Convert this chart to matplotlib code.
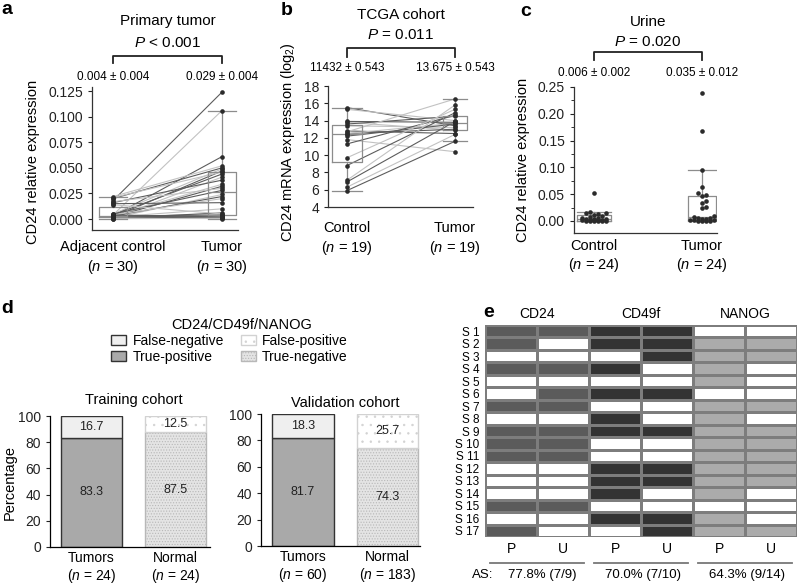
import numpy as np
import matplotlib
matplotlib.use("Agg")
import matplotlib.pyplot as plt
from matplotlib.transforms import blended_transform_factory
from matplotlib.colors import ListedColormap
from matplotlib.patches import Patch
from matplotlib.ticker import FormatStrFormatter, MultipleLocator

plt.rcParams['font.family'] = ['Liberation Sans', 'DejaVu Sans']
plt.rcParams['mathtext.fontset'] = 'custom'
plt.rcParams['mathtext.rm'] = 'Liberation Sans'
plt.rcParams['mathtext.it'] = 'Liberation Sans:italic'
plt.rcParams['hatch.linewidth'] = 0.5
plt.rcParams['axes.linewidth'] = 0.9

# ---- panel a: primary tumor (paired) ----
ctrl_a = [0.018, 0.004, 0.003, 0.022, 0.020, 0.005, 0.002, 0.021, 0.004, 0.001,
          0.016, 0.003, 0.002, 0.017, 0.005, 0.001, 0.003, 0.004, 0.015, 0.002,
          0.001, 0.014, 0.003, 0.0005, 0.002, 0.001, 0.004, 0.0003, 0.002, 0.0006]
tumor_a = [0.124, 0.106, 0.061, 0.052, 0.050, 0.049, 0.047, 0.046, 0.044, 0.041,
           0.038, 0.034, 0.032, 0.030, 0.028, 0.024, 0.022, 0.020, 0.016, 0.010,
           0.006, 0.005, 0.004, 0.003, 0.003, 0.002, 0.002, 0.001, 0.001, 0.0005]
labels_a = ["Adjacent control\n($\\it{n}$ = 30)", "Tumor\n($\\it{n}$ = 30)"]
stats_a = ["0.004 ± 0.004", "0.029 ± 0.004"]

# ---- panel b: TCGA cohort (paired) ----
ctrl_b = [15.5, 15.3, 13.9, 13.8, 13.6, 13.4, 12.8, 12.7, 12.5, 12.5,
          12.2, 11.8, 11.3, 9.7, 8.8, 7.1, 6.9, 6.3, 5.9]
tumor_b = [13.4, 14.0, 13.8, 12.9, 14.5, 13.2, 12.5, 16.5, 13.0, 13.7,
           13.6, 10.4, 14.6, 15.3, 14.9, 15.8, 13.9, 12.4, 11.6]
labels_b = ["Control\n($\\it{n}$ = 19)", "Tumor\n($\\it{n}$ = 19)"]
stats_b = ["11432 ± 0.543", "13.675 ± 0.543"]

# ---- panel c: urine ----
ctrl_c = [0.053, 0.016, 0.015, 0.014, 0.013, 0.012, 0.010, 0.008, 0.006, 0.005,
          0.004, 0.003, 0.003, 0.002, 0.002, 0.001, 0.001, 0.001, 0.0005, 0.0005,
          0.0, 0.0, 0.0, 0.0]
tumor_c = [0.238, 0.167, 0.096, 0.063, 0.052, 0.048, 0.046, 0.038, 0.034, 0.026,
           0.024, 0.009, 0.007, 0.006, 0.005, 0.004, 0.003, 0.002, 0.001, 0.001,
           0.0005, 0.0, 0.0, 0.0]
labels_c = ["Control\n($\\it{n}$ = 24)", "Tumor\n($\\it{n}$ = 24)"]
stats_c = ["0.006 ± 0.002", "0.035 ± 0.012"]

# ---- panel d: stacked bars ----
groups_d = ["Tumors", "Normal"]
train_n = [24, 24]
train_correct = [83.3, 87.5]   # true-positive / true-negative
train_wrong = [16.7, 12.5]     # false-negative / false-positive
valid_n = [60, 183]
valid_correct = [81.7, 74.3]
valid_wrong = [18.3, 25.7]

# ---- panel e: per-sample marker status ----
samples = ["S %d" % i for i in range(1, 18)]
markers = ["CD24", "CD49f", "NANOG"]
cd24_p = [1, 1, 0, 1, 0, 0, 1, 0, 1, 1, 1, 0, 0, 0, 1, 0, 1]
cd24_u = [1, 0, 0, 1, 0, 1, 1, 0, 1, 1, 1, 0, 0, 0, 1, 0, 0]
cd49f_p = [1, 1, 0, 1, 0, 1, 0, 1, 1, 0, 0, 1, 1, 1, 0, 1, 0]
cd49f_u = [1, 1, 1, 0, 0, 1, 0, 0, 1, 0, 0, 1, 1, 0, 0, 1, 1]
nanog_p = [0, 1, 1, 1, 1, 0, 1, 1, 1, 1, 1, 1, 1, 1, 0, 1, 1]
nanog_u = [0, 1, 1, 0, 0, 0, 1, 0, 1, 1, 1, 1, 1, 0, 0, 0, 1]
as_text = ["77.8% (7/9)", "70.0% (7/10)", "64.3% (9/14)"]

W, H = 798, 585
fig = plt.figure(figsize=(W / 100, H / 100), dpi=100)


def add_ax(l, t, r, b):
    return fig.add_axes([l / W, 1 - b / H, (r - l) / W, (b - t) / H])


def fy(y):
    return 1 - y / H


def swarm(vals, ypx, xpx, d=4.0, maxoff=13.0):
    # simple beeswarm, capped width: overlap is allowed once the row is full
    vals = np.asarray(vals, float)
    offs = np.zeros(len(vals))
    placed = []
    cands = [0.0]
    k = 1
    while k * d <= maxoff:
        cands += [k * d, -k * d]
        k += 1
    for i in np.argsort(vals):
        y = vals[i] * ypx
        best, bestd = 0.0, -1
        for c in cands:
            md = min([np.hypot(c - px, y - py) for px, py in placed] or [99])
            if md >= d:
                best = c
                break
            if md > bestd:
                best, bestd = c, md
        placed.append((best, y))
        offs[i] = best / xpx
    return offs


def paired_panel(ax, ctrl, tum, widths, xlim, ylim, lines=True, jitter=None):
    if lines:
        for i, (c, t) in enumerate(zip(ctrl, tum)):
            ax.plot([0, 1], [c, t], color=['#5c5c5c', '#c2c2c2'][i % 2], lw=0.8, zorder=1)
    st = dict(color='#8c8c8c', lw=0.9)
    ax.boxplot([ctrl, tum], positions=[0, 1], widths=widths, capwidths=widths,
               showfliers=False, boxprops=st, whiskerprops=st, capprops=st,
               medianprops=st, zorder=2)
    for k, v in enumerate([ctrl, tum]):
        xo = np.zeros(len(v)) if jitter is None else jitter[k]
        ax.scatter(k + xo, v, s=11, color='#2b2b2b', zorder=3, linewidths=0)
    ax.set_xlim(*xlim)
    ax.set_ylim(*ylim)
    for s in ['top', 'right']:
        ax.spines[s].set_visible(False)
    for s in ['left', 'bottom']:
        ax.spines[s].set_color('#333333')
    ax.tick_params(axis='y', direction='out', length=3, width=0.8, labelsize=10, colors='#222222')
    ax.set_xticks([0, 1])


def annotate(ax, title, title_y, ptext, p_y, top_y, leg_y, stats, stats_y):
    tr = blended_transform_factory(ax.transData, fig.transFigure)
    ax.plot([0, 0, 1, 1], [fy(leg_y), fy(top_y), fy(top_y), fy(leg_y)], transform=tr,
            color='#222222', lw=1.3, clip_on=False)
    ax.text(0.5, fy(title_y), title, transform=tr, ha='center', va='center', fontsize=11)
    ax.text(0.5, fy(p_y), ptext, transform=tr, ha='center', va='center', fontsize=11)
    for k, s in enumerate(stats):
        ax.text(k, fy(stats_y), s, transform=tr, ha='center', va='center', fontsize=8.5)


# panel a
ax = add_ax(92, 87, 238, 230)
paired_panel(ax, ctrl_a, tumor_a, [0.25, 0.26], (-0.193, 1.147), (-0.0107, 0.129))
ax.set_yticks([0, 0.025, 0.05, 0.075, 0.1, 0.125])
ax.yaxis.set_major_formatter(FormatStrFormatter('%.3f'))
ax.set_xticklabels(labels_a, fontsize=10.5, linespacing=1.3)
ax.tick_params(axis='x', length=0, pad=7)
annotate(ax, "Primary tumor", 21, "$\\it{P}$ < 0.001", 43, 56, 63, stats_a, 77)
fig.text(33 / W, fy(162), "CD24 relative expression", rotation=90, ha='center', va='center', fontsize=10.5)

# panel b
ax = add_ax(328, 86, 473, 207)
paired_panel(ax, ctrl_b, tumor_b, [0.27, 0.22], (-0.176, 1.167), (4, 18))
ax.set_yticks(range(4, 19, 2))
ax.set_xticklabels(labels_b, fontsize=10.5, linespacing=1.3)
ax.tick_params(axis='x', length=0, pad=10)
annotate(ax, "TCGA cohort", 15, "$\\it{P}$ = 0.011", 35, 48, 57, stats_b, 68)
fig.text(288 / W, fy(142), "CD24 mRNA expression (log$_2$)", rotation=90, ha='center', va='center', fontsize=10.5)

# panel c
ax = add_ax(574, 87, 717, 233)
jit = [swarm(ctrl_c, 536, 108), swarm(tumor_c, 536, 108)]
paired_panel(ax, ctrl_c, tumor_c, [0.32, 0.26], (-0.185, 1.139), (-0.0224, 0.25),
             lines=False, jitter=jit)
ax.set_yticks([0, 0.05, 0.1, 0.15, 0.2, 0.25])
ax.yaxis.set_minor_locator(MultipleLocator(0.025))
ax.tick_params(axis='y', which='minor', length=2, width=0.7, colors='#333333')
ax.yaxis.set_major_formatter(FormatStrFormatter('%.2f'))
ax.set_xticklabels(labels_c, fontsize=10.5, linespacing=1.3)
ax.tick_params(axis='x', length=0, pad=4)
annotate(ax, "Urine", 22, "$\\it{P}$ = 0.020", 42, 52, 60, stats_c, 73)
fig.text(523 / W, fy(160), "CD24 relative expression", rotation=90, ha='center', va='center', fontsize=10.5)

# panel d
styles = {
    "TP": dict(facecolor='#a9a9a9', edgecolor='#333333', hatch=None, label="True-positive"),
    "FN": dict(facecolor='#efefef', edgecolor='#333333', hatch=None, label="False-negative"),
    "TN": dict(facecolor='#e4e4e4', edgecolor='#b8b8b8', hatch='......', label="True-negative"),
    "FP": dict(facecolor='white', edgecolor='#d2d2d2', hatch='..', label="False-positive"),
}


def stacked(ax, correct, wrong, ns, title, title_y):
    keys = [("TP", "FN"), ("TN", "FP")]
    for k in range(2):
        lo, hi = keys[k]
        for key, bottom, h in [(lo, 0, correct[k]), (hi, correct[k], wrong[k])]:
            s = styles[key]
            ax.bar(k, h, bottom=bottom, width=0.73, facecolor=s['facecolor'],
                   edgecolor=s['edgecolor'], hatch=s['hatch'], linewidth=1.0)
            ax.text(k, bottom + h / 2, "%.1f" % h, ha='center', va='center', fontsize=9, color='#222222')
    ax.set_ylim(0, 100)
    ax.set_yticks(range(0, 101, 20))
    ax.set_xticks([0, 1])
    ax.set_xticklabels(["%s\n($\\it{n}$ = %d)" % (g, n) for g, n in zip(groups_d, ns)],
                       fontsize=10, linespacing=1.15)
    ax.tick_params(axis='x', length=0, pad=3)
    ax.tick_params(axis='y', direction='out', length=3, width=0.8, labelsize=10, colors='#222222')
    for s in ['top', 'right']:
        ax.spines[s].set_visible(False)
    tr = blended_transform_factory(ax.transData, fig.transFigure)
    ax.text(0.5, fy(title_y), title, transform=tr, ha='center', va='center', fontsize=10.5)


ax = add_ax(50, 416, 210, 547)
stacked(ax, train_correct, train_wrong, train_n, "Training cohort", 400)
ax.set_xlim(-0.494, 1.41)
fig.text(10 / W, fy(482), "Percentage", rotation=90, ha='center', va='center', fontsize=10.5)

ax = add_ax(261, 414, 420, 546)
stacked(ax, valid_correct, valid_wrong, valid_n, "Validation cohort", 403)
ax.set_xlim(-0.497, 1.385)

handles = [Patch(facecolor=styles[k]['facecolor'], edgecolor=styles[k]['edgecolor'],
                 hatch=styles[k]['hatch'], label=styles[k]['label']) for k in ["FN", "TP", "FP", "TN"]]
fig.text(242 / W, fy(325), "CD24/CD49f/NANOG", ha='center', va='center', fontsize=10.5)
fig.legend(handles=handles, ncol=2, loc='upper left', bbox_to_anchor=(111 / W, fy(334)),
           frameon=False, fontsize=10, handlelength=1.1, handleheight=0.7,
           handletextpad=0.45, columnspacing=1.2, labelspacing=0.15, borderpad=0,
           borderaxespad=0)

# panel e
cols = [cd24_p, cd24_u, cd49f_p, cd49f_u, nanog_p, nanog_u]
M = np.array([np.array(c) * (j // 2 + 1) for j, c in enumerate(cols)]).T
ax = add_ax(485, 325, 797, 537)
cmap = ListedColormap(['white', '#5b5b5b', '#333333', '#ababab'])
ax.pcolormesh(M, cmap=cmap, vmin=-0.5, vmax=3.5, edgecolors='#7d7d7d', linewidth=0.8)
ax.set_xlim(0, 6)
ax.set_ylim(len(samples), 0)
for s in ax.spines.values():
    s.set_visible(False)
ax.set_xticks([])
ax.set_yticks(np.arange(len(samples)) + 0.5)
ax.set_yticklabels(samples, fontsize=8.5)
ax.tick_params(axis='y', length=0, pad=4)
for g, name in enumerate(markers):
    ax.text(2 * g + 1, -0.85, name, ha='center', va='center', fontsize=10)
    ax.text(2 * g + 0.5, 17.95, "P", ha='center', va='center', fontsize=10)
    ax.text(2 * g + 1.5, 17.95, "U", ha='center', va='center', fontsize=10)
    ax.plot([2 * g + 0.1, 2 * g + 1.9], [19.1, 19.1], color='#777777', lw=1.3, clip_on=False)
    ax.text(2 * g + (1.1 if g == 0 else 1.03), 20.05, as_text[g], ha='center', va='center', fontsize=9.5)
ax.text(-0.25, 20.05, "AS:", ha='left', va='center', fontsize=9.5)

# panel letters
for x, y, t in [(1, 1, 'a'), (281, 2, 'b'), (520, 3, 'c'), (1, 300, 'd'), (483, 304, 'e')]:
    fig.text(x / W, fy(y), t, fontsize=14, fontweight='bold', ha='left', va='top')

fig.savefig("out.png", dpi=100)
